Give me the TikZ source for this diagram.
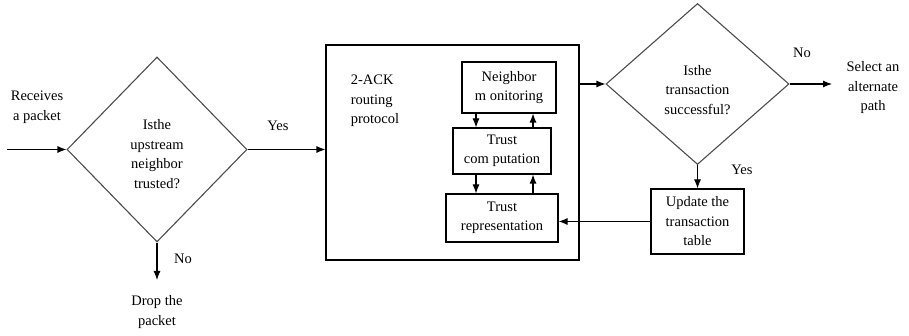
\documentclass[tikz,border=0pt]{standalone}
\usepackage{fontspec}
\setmainfont{Liberation Serif}
\usetikzlibrary{shapes.geometric,arrows.meta}
\begin{document}
\begin{tikzpicture}[x=1pt,y=-1pt,
  txt/.style={font=\fontsize{14.5}{19.5}\selectfont, align=center, inner sep=0pt},
  decision/.style={draw=black!70, line width=1.1pt, diamond, inner sep=0pt},
  procbox/.style={draw=black, line width=1.1pt, rectangle, inner sep=0pt},
  arr/.style={draw=black, line width=1.1pt, -{Latex[length=9pt,width=7pt]}},
  plain/.style={draw=black, line width=1.1pt}
]
\useasboundingbox (0,0) rectangle (909,336);

% first decision
\node[decision, minimum width=180pt, minimum height=185pt] (d1) at (157,149.5) {};
\node[txt] (d1t) at (157,154) {Isthe\\upstream\\neighbor\\trusted?};

% incoming packet
\coordinate (in) at (7,149.5);
\node[txt] (rcv) at (37,107) {Receives\\a packet};
\draw[arr] (in) -- (d1.west);

% drop branch
\node[txt] (drop) at (157,312) {Drop the\\packet};
\draw[arr] (d1.south) -- (157,280);
\node[txt] (no1) at (183,259) {No};

% routing protocol block
\node[procbox, minimum width=253pt, minimum height=215pt] (bb) at (452.5,152.5) {};
\node[txt, align=left] (ack) at (375,101) {2-ACK\\routing\\protocol};
\draw[arr] (d1.east) -- (bb.west |- d1.east);
\node[txt] (yes1) at (278,126) {Yes};

% inner stages
\node[procbox, minimum width=94pt, minimum height=51pt, txt, draw, line width=1.1pt] (nm) at (509,87.5) {Neighbor\\m onitoring};
\node[procbox, minimum width=98pt, minimum height=46pt, txt, draw, line width=1.1pt] (tc) at (502,151) {Trust\\com putation};
\node[procbox, minimum width=112pt, minimum height=48pt, txt, draw, line width=1.1pt] (tr) at (502,218) {Trust\\representation};

\coordinate (xl) at (476,0);
\coordinate (xr) at (533,0);
\draw[arr] (nm.south -| xl) -- (tc.north -| xl);
\draw[arr] (tc.north -| xr) -- (nm.south -| xr);
\draw[arr] (tc.south -| xl) -- (tr.north -| xl);
\draw[arr] (tr.north -| xr) -- (tc.south -| xr);

% second decision
\node[decision, minimum width=183pt, minimum height=161pt] (d2) at (697.5,84) {};
\node[txt] (d2t) at (697.5,90) {Isthe\\transaction\\successful?};
\draw[arr] (bb.east |- d2.west) -- (d2.west);

% alternate path branch
\node[txt] (alt) at (873,88) {Select an\\alternate\\path};
\coordinate (altin) at (832,84);
\draw[arr] (d2.east) -- (altin);
\node[txt] (no2) at (802,53) {No};

% update branch
\node[procbox, minimum width=93pt, minimum height=65pt, txt, draw, line width=1.1pt] (up) at (697.5,221.5) {Update the\\transaction\\table};
\draw[arr] (d2.south) -- (up.north);
\node[txt] (yes2) at (742,170) {Yes};
\draw[arr] (up.west) -- (tr.east |- up.west);
\end{tikzpicture}
\end{document}
